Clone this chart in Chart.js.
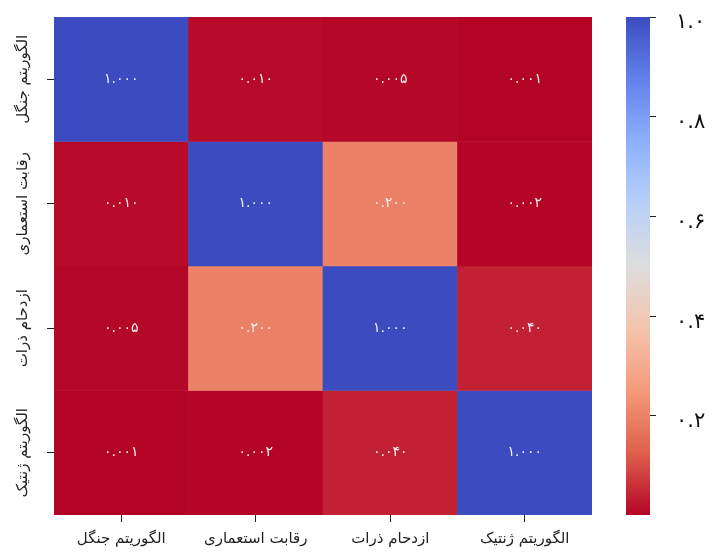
<!DOCTYPE html>
<html>
<head>
<meta charset="utf-8">
<script src="https://cdn.jsdelivr.net/npm/chart.js@4/dist/chart.umd.min.js"></script>
<style>
  body { margin: 0; background: #fff; }
  #wrap { width: 716px; height: 554px; }
</style>
</head>
<body>
<div id="wrap"><canvas id="heatmap"></canvas></div>
<script>
// algorithm names (columns and rows use the same order)
const algos = ['الگوریتم جنگل', 'رقابت استعماری', 'ازدحام ذرات', 'الگوریتم ژنتیک'];

// correlation rows
const rowJungle  = [1.000, 0.010, 0.005, 0.001];
const rowImperial = [0.010, 1.000, 0.200, 0.002];
const rowSwarm   = [0.005, 0.200, 1.000, 0.040];
const rowGenetic = [0.001, 0.002, 0.040, 1.000];
const matrix = [rowJungle, rowImperial, rowSwarm, rowGenetic];

// colour bar range and ticks
const vmin = 0.001;
const vmax = 1.0;
const cbTicks = [0.2, 0.4, 0.6, 0.8, 1.0];

const FONT = '"DejaVu Sans", sans-serif';

// coolwarm stops, reversed when used (high = blue, low = red)
const coolwarm = [
  [0.000, 59, 76, 192],
  [0.125, 98, 130, 234],
  [0.250, 141, 176, 254],
  [0.375, 184, 208, 249],
  [0.500, 221, 221, 221],
  [0.625, 245, 196, 173],
  [0.750, 244, 154, 123],
  [0.875, 222, 96, 77],
  [1.000, 180, 4, 38]
];

function cmap(v) {
  let t = (v - vmin) / (vmax - vmin);
  t = 1 - Math.min(1, Math.max(0, t));
  for (let i = 1; i < coolwarm.length; i++) {
    const a = coolwarm[i - 1], b = coolwarm[i];
    if (t <= b[0]) {
      const f = (t - a[0]) / (b[0] - a[0]);
      const c = [1, 2, 3].map(k => Math.round(a[k] + (b[k] - a[k]) * f));
      return 'rgb(' + c.join(',') + ')';
    }
  }
  return 'rgb(180,4,38)';
}

// western digits -> persian digits
function faNum(s) {
  return String(s).replace(/[0-9]/g, d => '۰۱۲۳۴۵۶۷۸۹'[d]);
}

// one floating-bar dataset per row, spanning [r, r+1] on the y scale
const datasets = matrix.map((row, r) => ({
  data: row.map(() => [r, r + 1]),
  values: row,
  backgroundColor: row.map(cmap),
  borderWidth: 0,
  barPercentage: 1,
  categoryPercentage: 1,
  grouped: false
}));

const heatPlugin = {
  id: 'heatExtras',
  afterDatasetsDraw(chart) {
    const ctx = chart.ctx;
    ctx.save();
    // cell annotations
    ctx.font = '14px ' + FONT;
    ctx.fillStyle = '#f2f2f2';
    ctx.textAlign = 'center';
    ctx.textBaseline = 'middle';
    chart.data.datasets.forEach((ds, i) => {
      chart.getDatasetMeta(i).data.forEach((bar, j) => {
        ctx.fillText(faNum(ds.values[j].toFixed(3)), bar.x, (bar.y + bar.base) / 2);
      });
    });
    ctx.restore();
  },
  afterDraw(chart) {
    const ctx = chart.ctx;
    const ys = chart.scales.y;
    const cb = chart.scales.cb;
    ctx.save();

    // vertical row labels
    ctx.font = '15px ' + FONT;
    ctx.fillStyle = '#222';
    ctx.textAlign = 'center';
    ctx.textBaseline = 'middle';
    algos.forEach((name, r) => {
      ctx.save();
      ctx.translate(23, ys.getPixelForValue(r + 0.5));
      ctx.rotate(-Math.PI / 2);
      ctx.fillText(name, 0, 0);
      ctx.restore();
    });

    // colour bar
    const top = cb.getPixelForValue(vmax);
    const bottom = cb.getPixelForValue(vmin);
    const x1 = cb.left;
    const w = 24;
    const grad = ctx.createLinearGradient(0, top, 0, bottom);
    for (let k = 0; k <= 40; k++) {
      grad.addColorStop(k / 40, cmap(vmax - (vmax - vmin) * k / 40));
    }
    ctx.fillStyle = grad;
    ctx.fillRect(x1 - w, top, w, bottom - top);
    ctx.restore();
  }
};

new Chart(document.getElementById('heatmap'), {
  type: 'bar',
  data: { labels: algos, datasets: datasets },
  options: {
    responsive: true,
    maintainAspectRatio: false,
    animation: false,
    events: [],
    layout: { padding: { top: 17, left: 0, right: 0, bottom: 0 } },
    plugins: {
      legend: { display: false },
      tooltip: { enabled: false }
    },
    scales: {
      x: {
        type: 'category',
        offset: true,
        grid: { offset: false, drawOnChartArea: false, tickLength: 7, color: '#222' },
        border: { display: false },
        ticks: { color: '#222', font: { family: FONT, size: 15 }, padding: 8, maxRotation: 0 },
        afterFit: s => { s.height = 39; s.paddingLeft = 0; s.paddingRight = 0; }
      },
      y: {
        type: 'linear',
        min: 0,
        max: 4,
        reverse: true,
        grid: { drawOnChartArea: false, tickLength: 7, color: '#222' },
        border: { display: false },
        ticks: { display: false },
        afterBuildTicks: s => { s.ticks = algos.map((_, r) => ({ value: r + 0.5 })); },
        afterFit: s => { s.width = 54; s.paddingTop = 0; s.paddingBottom = 0; }
      },
      gap: {
        type: 'linear',
        position: 'right',
        weight: 1,
        grid: { display: false },
        border: { display: false },
        ticks: { display: false },
        afterFit: s => { s.width = 58; s.paddingTop = 0; s.paddingBottom = 0; }
      },
      cb: {
        type: 'linear',
        position: 'right',
        weight: 2,
        min: vmin,
        max: vmax,
        grid: { drawOnChartArea: false, tickLength: 6, color: '#222' },
        border: { display: false },
        ticks: {
          color: '#111',
          padding: 20,
          labelOffset: 6,
          font: { family: FONT, size: 21 },
          callback: v => faNum(v.toFixed(1))
        },
        afterBuildTicks: s => { s.ticks = cbTicks.map(v => ({ value: v })); },
        afterFit: s => { s.width = 66; s.paddingTop = 0; s.paddingBottom = 0; }
      }
    }
  },
  plugins: [heatPlugin]
});
</script>
</body>
</html>
